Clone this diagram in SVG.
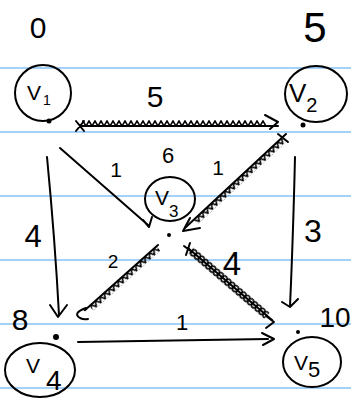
<svg xmlns="http://www.w3.org/2000/svg" width="351" height="405" viewBox="0 0 351 405">
<style>
.rule{stroke:#4ba3f5;stroke-width:1.2}
.ink{fill:none;stroke:#000;stroke-width:2;stroke-linecap:round;stroke-linejoin:round}
.dot{fill:#000}
.lbl{font-family:"Liberation Sans",Arial,sans-serif;fill:#000;text-anchor:middle}
.nm{font-family:"Liberation Sans",Arial,sans-serif;fill:#000}
</style>
<defs>
<pattern id="saw" patternUnits="userSpaceOnUse" x="0" y="-6" width="6" height="6"><path d="M0,6 L3,1 L6,6" fill="none" stroke="#000" stroke-width="1.6"/></pattern>
<pattern id="coil" patternUnits="userSpaceOnUse" x="0" y="-4" width="5" height="8"><ellipse cx="2.5" cy="4" rx="2.4" ry="3.2" fill="none" stroke="#000" stroke-width="1.5"/></pattern>
</defs>
<rect width="351" height="405" fill="#fff"/>
<g id="paper">
<line class="rule" x1="0" y1="68" x2="351" y2="68"/>
<line class="rule" x1="0" y1="132" x2="351" y2="132"/>
<line class="rule" x1="0" y1="196" x2="351" y2="196"/>
<line class="rule" x1="0" y1="260" x2="351" y2="260"/>
<line class="rule" x1="0" y1="324" x2="351" y2="324"/>
<line class="rule" x1="0" y1="388" x2="351" y2="388"/>
</g>
<g id="connectors">
<g transform="translate(80,126)"><path class="ink" d="M0,0 H198"/><rect x="2" y="-6" width="184" height="6" fill="url(#saw)"/></g>
<path class="ink" d="M265,115 L278,122 L270,129 M76,121 L84,131 M84,121 L76,131"/>
<g transform="translate(286,134) rotate(137.1)"><path class="ink" d="M0,0 H138"/><rect x="6" y="-6" width="120" height="6" fill="url(#saw)"/></g>
<path class="ink" d="M190,218 L183,231 L200,228 M278,134 L288,142"/>
<g transform="translate(158,245) rotate(138.3)"><path class="ink" d="M0,0 H98"/><rect x="2" y="-6" width="90" height="6" fill="url(#saw)"/></g>
<path class="ink" d="M86,308 Q72,313 80,318 Q84,320 88,319"/>
<g transform="translate(188,248) rotate(40.6)"><path class="ink" d="M0,0 H111"/><rect x="4" y="-4" width="100" height="8" fill="url(#coil)"/></g>
<path class="ink" d="M266,316 L274,322 L266,328 M184,246 L192,252 M190,243 L186,255"/>
<path class="ink" d="M60,148 L148,225 M143,220 L149,227 L152,217"/>
<path class="ink" d="M47,157 Q55,240 59,315 M50,305 L58,317 L67,305"/>
<path class="ink" d="M295,157 Q293,240 290,306 M282,302 L290,307 L298,299"/>
<path class="ink" d="M78,342 L268,339 M262,333 L274,339 L263,345"/>
</g>
<g id="labels">
<text class="lbl" x="155" y="107" font-size="30">5</text>
<text class="lbl" x="116" y="177" font-size="21">1</text>
<text class="lbl" x="218" y="175" font-size="21">1</text>
<text class="lbl" x="33" y="247" font-size="31">4</text>
<text class="lbl" x="313" y="242" font-size="32">3</text>
<text class="lbl" x="113" y="268" font-size="19">2</text>
<text class="lbl" x="232" y="275" font-size="33">4</text>
<text class="lbl" x="182" y="330" font-size="22">1</text>
</g>
<g id="v1">
<ellipse class="ink" cx="43" cy="93" rx="28" ry="28"/>
<circle class="dot" cx="49" cy="121" r="2.5"/>
<text class="nm" x="27" y="100" font-size="21">V<tspan font-size="14" dx="2" dy="5">1</tspan></text>
<text class="lbl" x="38" y="38" font-size="30">0</text>
</g>
<g id="v2">
<ellipse class="ink" cx="316" cy="94" rx="31" ry="28"/>
<circle class="dot" cx="303" cy="125" r="2.5"/>
<text class="nm" x="289" y="102" font-size="26">V<tspan font-size="20" dy="10">2</tspan></text>
<text class="lbl" x="315" y="42" font-size="42">5</text>
</g>
<g id="v3">
<ellipse class="ink" cx="170" cy="199" rx="25" ry="22"/>
<circle class="dot" cx="169" cy="235" r="2"/>
<text class="nm" x="155" y="205" font-size="21">V<tspan font-size="17" dy="12">3</tspan></text>
<text class="lbl" x="168" y="163" font-size="22">6</text>
</g>
<g id="v4">
<ellipse class="ink" cx="40" cy="370" rx="35" ry="27"/>
<circle class="dot" cx="56" cy="337" r="3"/>
<text class="nm" x="26" y="373" font-size="21">V<tspan font-size="28" dx="6" dy="17">4</tspan></text>
<text class="lbl" x="20" y="330" font-size="30">8</text>
</g>
<g id="v5">
<ellipse class="ink" cx="312" cy="362" rx="29" ry="25"/>
<circle class="dot" cx="298" cy="332" r="2"/>
<text class="nm" x="294" y="370" font-size="21">V<tspan font-size="22" dy="7">5</tspan></text>
<text class="lbl" x="335" y="327" font-size="28">10</text>
</g>
</svg>
